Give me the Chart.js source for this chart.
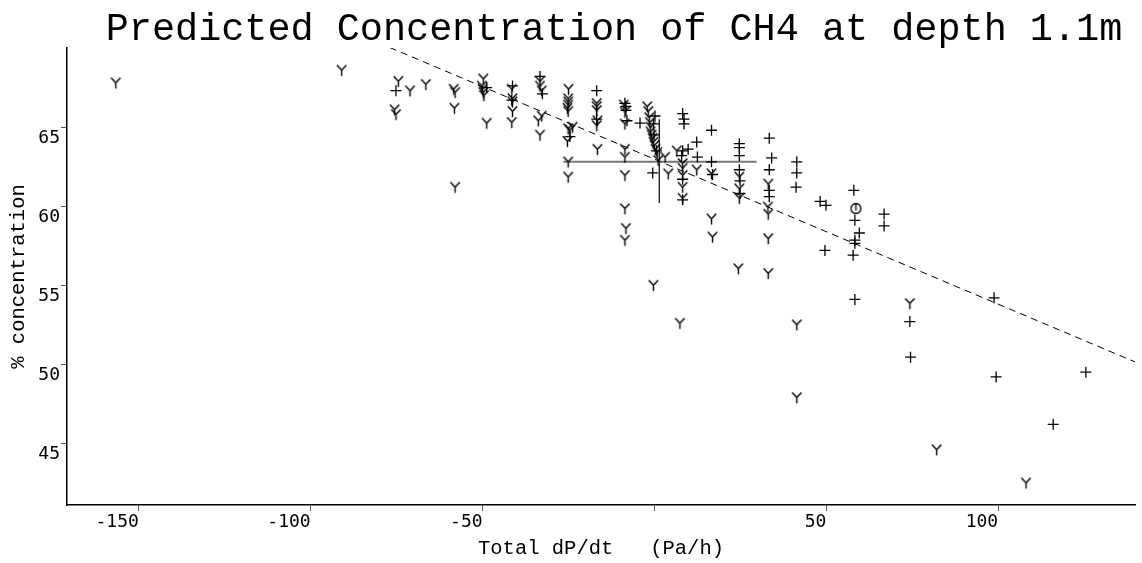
<!DOCTYPE html>
<html>
<head>
<meta charset="utf-8">
<title>Predicted Concentration of CH4</title>
<script src="https://cdn.jsdelivr.net/npm/chart.js@4.4.1/dist/chart.umd.min.js"></script>
<style>
  html, body { margin: 0; padding: 0; background: #fff; }
  canvas { display: block; }
</style>
</head>
<body>
<canvas id="chart" width="1142" height="563"></canvas>
<script>
// values
const titleText = 'Predicted Concentration of CH4 at depth 1.1m';

// "Y" markers
const triX = [-156.7, -91.0, -74.5, -71.1, -66.5, -75.6, -75.2, -58.4, -58.0, -58.2, -58.0,
  -49.8, -50.2, -50.0, -49.8, -49.6, -48.8, -41.5, -41.3, -41.3, -41.3, -41.5,
  -33.3, -33.3, -32.8, -33.8, -33.3, -32.8,
  -25.0, -25.1, -25.1, -25.1, -25.3, -25.1, -25.1, -24.6, -25.3, -23.8, -25.1, -25.1,
  -16.8, -16.8, -16.8, -16.6, -16.8, -16.6,
  -8.9, -8.6, -8.6, -8.6, -8.6, -8.6, -8.6, -8.3, -8.6,
  -2.1, -1.8, -1.5, -1.3, -1.1, -1.1, -0.8, -0.5, -0.3, 0.0, 0.3, 0.8,
  1.1, 3.1, 4.0, 6.5, 8.2, 8.2, 8.2, 8.2, 8.2, 12.3, 16.6, 16.6, 16.9,
  24.7, 24.7, 24.7, 24.4, 33.1, 33.0, 33.1, 33.1, 33.1,
  41.4, 41.4, 74.3, 82.1, 108.1, -0.3, 7.4];
const triY = [67.8, 68.6, 67.9, 67.3, 67.7, 66.1, 65.8, 67.4, 67.2, 66.2, 61.2,
  68.05, 67.6, 67.4, 67.2, 67.0, 65.25, 67.4, 66.8, 66.6, 66.0, 65.3,
  67.9, 67.6, 67.3, 65.4, 64.5, 65.7,
  67.4, 66.8, 66.6, 66.4, 66.2, 66.0, 64.9, 64.8, 64.1, 65.0, 62.8, 61.85,
  66.5, 66.3, 66.05, 65.4, 65.1, 63.6,
  66.4, 65.95, 65.2, 63.6, 63.1, 61.95, 59.85, 58.6, 57.85,
  66.3, 66.0, 65.6, 65.3, 65.0, 64.7, 64.5, 64.3, 64.05, 63.85, 63.6, 63.4,
  62.9, 63.1, 62.05, 63.5, 62.7, 62.4, 61.95, 61.2, 60.5, 62.3, 62.05, 59.2, 58.05,
  61.85, 61.1, 60.5, 56.05, 61.4, 59.95, 59.5, 57.95, 55.75,
  52.5, 47.9, 53.85, 44.6, 42.5, 55.0, 52.6];

// "+" markers
const plusX = [-75.2, -48.8, -41.3, -41.5, -33.3, -32.6, -24.6, -16.8, -16.8,
  -8.6, -8.3, -8.3, -8.0, -4.2, 0.15, -0.3, -0.1, 0.6, -0.5,
  8.2, 8.6, 8.6, 8.2, 9.8, 12.3, 7.9, 12.5, 8.2, 8.2,
  16.6, 16.6, 16.9, 24.7, 24.7, 24.7, 24.7, 24.9, 24.9,
  33.4, 34.1, 33.4, 33.4, 33.4, 41.4, 41.4, 41.2, 48.2, 49.9, 49.6,
  58.0, 58.3, 59.6, 58.3, 58.3, 57.8, 58.3, 66.8, 66.8,
  74.3, 74.5, 98.8, 99.4, 116.0, 125.5];
const plusY = [67.3, 67.5, 67.6, 66.7, 68.2, 67.1, 64.4, 67.3, 65.5,
  66.5, 66.3, 66.05, 65.4, 65.25, 65.7, 65.2, 64.5, 63.5, 62.1,
  65.85, 65.5, 65.2, 63.5, 63.6, 64.05, 63.2, 63.1, 61.7, 60.4,
  64.8, 62.8, 62.0, 63.95, 63.7, 63.2, 62.3, 61.6, 60.8,
  64.3, 63.05, 62.3, 61.0, 60.6, 62.8, 62.1, 61.2, 60.3, 60.05, 57.2,
  61.0, 59.1, 58.3, 57.85, 57.65, 56.9, 54.1, 59.5, 58.75,
  52.7, 50.45, 54.2, 49.2, 46.2, 49.5];

// single ring marker
const ringX = [58.6];
const ringY = [59.85];

// fitted line (dashed)
const fitX = [-77.0, 139.8];
const fitY = [70.03, 50.15];

// mean with spread bars
const meanX = 1.4;
const meanY = 62.8;
const spreadX = [-26.5, 29.7];
const spreadY = [60.2, 65.5];

const xTicks = [-150, -100, -50, 0, 50, 100];
const yTicks = [45, 50, 55, 60, 65];

function toPoints(xs, ys) {
  return xs.map((x, i) => ({ x: x, y: ys[i] }));
}

// "Y" glyph: two arms up at 45 degrees and a stem down
function makeTri() {
  const c = document.createElement('canvas');
  c.width = 15; c.height = 15;
  const g = c.getContext('2d');
  g.strokeStyle = '#000';
  g.lineWidth = 1.4;
  g.beginPath();
  g.moveTo(7.5, 7.5); g.lineTo(7.5, 13.2);
  g.moveTo(7.5, 7.5); g.lineTo(2.8, 2.5);
  g.moveTo(7.5, 7.5); g.lineTo(12.2, 2.5);
  g.stroke();
  return c;
}

function makeRing() {
  const c = document.createElement('canvas');
  c.width = 15; c.height = 15;
  const g = c.getContext('2d');
  g.strokeStyle = '#000';
  g.lineWidth = 1.3;
  g.beginPath();
  g.arc(7.5, 7.5, 5, 0, Math.PI * 2);
  g.moveTo(7.5, 2.5); g.lineTo(7.5, 9.5);
  g.stroke();
  return c;
}

// big title, drawn a bit right of centre like the original
const titlePlugin = {
  id: 'topTitle',
  afterDraw(chart) {
    const ctx = chart.ctx;
    ctx.save();
    ctx.font = '38.5px "Liberation Mono", "Courier New", monospace';
    ctx.fillStyle = '#000';
    ctx.textAlign = 'center';
    ctx.textBaseline = 'alphabetic';
    ctx.fillText(titleText, 614, 40);
    ctx.restore();
  }
};

const ctx = document.getElementById('chart').getContext('2d');

new Chart(ctx, {
  type: 'scatter',
  data: {
    datasets: [
      {
        label: 'Y',
        data: toPoints(triX, triY),
        pointStyle: makeTri(),
        pointRadius: 6,
        showLine: false
      },
      {
        label: '+',
        data: toPoints(plusX, plusY),
        pointStyle: 'cross',
        pointRadius: 5.5,
        pointBorderWidth: 1.3,
        borderColor: '#000',
        backgroundColor: '#000',
        showLine: false
      },
      {
        label: 'ring',
        data: toPoints(ringX, ringY),
        pointStyle: makeRing(),
        pointRadius: 6,
        showLine: false
      },
      {
        label: 'fit',
        data: toPoints(fitX, fitY),
        showLine: true,
        borderColor: '#000',
        borderWidth: 1,
        borderDash: [7, 5],
        pointRadius: 0
      },
      {
        label: 'spread x',
        data: toPoints(spreadX, [meanY, meanY]),
        showLine: true,
        borderColor: '#777',
        borderWidth: 2,
        pointRadius: 0
      },
      {
        label: 'spread y',
        data: toPoints([meanX, meanX], spreadY),
        showLine: true,
        borderColor: '#000',
        borderWidth: 1.2,
        pointRadius: 0
      }
    ]
  },
  options: {
    responsive: false,
    animation: false,
    devicePixelRatio: 1,
    layout: { padding: { top: 48, right: 7, left: 0, bottom: 0 } },
    plugins: {
      legend: { display: false },
      title: { display: false },
      tooltip: { enabled: false }
    },
    scales: {
      x: {
        type: 'linear',
        min: -170.9,
        max: 139.8,
        afterBuildTicks: s => { s.ticks = xTicks.map(v => ({ value: v })); },
        afterFit: s => { s.height = 58; },
        ticks: {
          autoSkip: false,
          maxRotation: 0,
          align: 'end',
          padding: 1,
          color: '#000',
          font: { family: '"DejaVu Sans Mono", monospace', size: 18 },
          callback: v => (v === 0 ? '' : String(v))
        },
        grid: { drawOnChartArea: false, drawTicks: true, tickLength: 6, color: '#555' },
        border: { display: true, color: '#000', width: 1.5 },
        title: {
          display: true,
          text: 'Total dP/dt   (Pa/h)',
          color: '#000',
          font: { family: '"Liberation Mono", "Courier New", monospace', size: 20.5 },
          padding: { top: 0, bottom: 2 }
        }
      },
      y: {
        type: 'linear',
        min: 41.1,
        max: 70,
        afterBuildTicks: s => { s.ticks = yTicks.map(v => ({ value: v })); },
        afterFit: s => { s.width = 67; },
        ticks: {
          autoSkip: false,
          padding: 1,
          labelOffset: 11,
          color: '#000',
          font: { family: '"DejaVu Sans Mono", monospace', size: 18 }
        },
        grid: { drawOnChartArea: false, drawTicks: true, tickLength: 6, color: '#555' },
        border: { display: true, color: '#000', width: 1.5 },
        title: {
          display: true,
          text: '% concentration',
          color: '#000',
          font: { family: '"Liberation Mono", "Courier New", monospace', size: 20.5 },
          padding: { top: 6, bottom: 0 }
        }
      }
    }
  },
  plugins: [titlePlugin]
});
</script>
</body>
</html>
